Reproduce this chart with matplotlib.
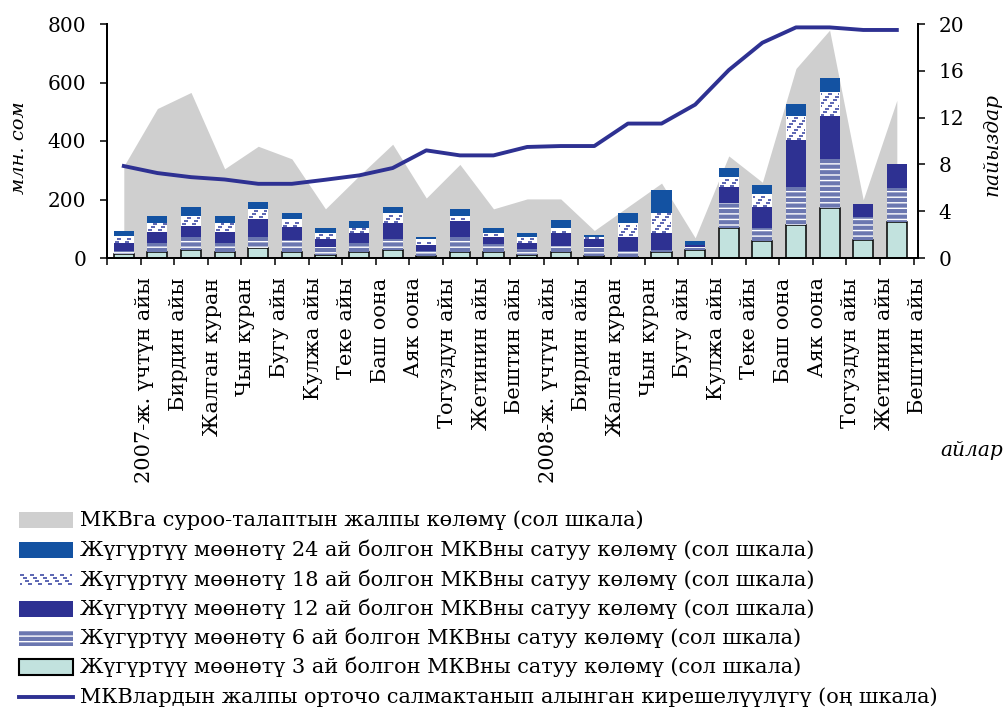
import matplotlib
matplotlib.use("Agg")
import matplotlib.pyplot as plt
import matplotlib.patches as mpatches
import numpy as np

plt.rcParams.update({"font.family": ["DejaVu Serif", "Liberation Serif"],
                     "hatch.linewidth": 1.0})

GRAY = "#cfcfcf"
BLUE24 = "#1352a2"
NAVY12 = "#2e3192"
STEEL6 = "#6b77b0"
CYAN3 = "#c2e2de"
DASH18 = "#4e59ad"
LINE = "#2e3192"

# ---------------------------------------------------------------- data
months = ["2007-ж. үчтүн айы", "Бирдин айы", "Жалган куран", "Чын куран",
          "Бугу айы", "Кулжа айы", "Теке айы", "Баш оона", "Аяк оона",
          "Тогуздун айы", "Жетинин айы", "Бештин айы",
          "2008-ж. үчтүн айы", "Бирдин айы", "Жалган куран", "Чын куран",
          "Бугу айы", "Кулжа айы", "Теке айы", "Баш оона", "Аяк оона",
          "Тогуздун айы", "Жетинин айы", "Бештин айы"]

demand = [314, 511, 566, 305, 382, 339, 168, 281, 389, 205, 320, 168,
          202, 202, 94, 175, 256, 69, 349, 259, 648, 779, 199, 539]

sold_3m = [14, 19, 27, 19, 33, 22, 11, 19, 27, 7, 19, 19,
           11, 19, 7, 5, 19, 27, 102, 59, 113, 170, 62, 122]
sold_6m = [11, 31, 46, 31, 40, 40, 26, 31, 38, 18, 52, 29,
           19, 23, 30, 18, 8, 10, 85, 43, 129, 167, 77, 117]
sold_12m = [25, 40, 38, 40, 60, 43, 27, 34, 54, 21, 57, 25,
            20, 43, 27, 50, 58, 9, 55, 72, 160, 148, 44, 83]
sold_18m = [25, 29, 34, 29, 33, 28, 21, 20, 34, 18, 17, 12,
            23, 16, 9, 46, 70, 0, 35, 45, 83, 82, 0, 0]
sold_24m = [18, 23, 31, 23, 24, 22, 16, 23, 23, 9, 24, 16,
            14, 30, 7, 36, 76, 13, 30, 32, 41, 48, 0, 0]

yield_pct = [7.86, 7.26, 6.91, 6.71, 6.34, 6.34, 6.69, 7.06, 7.69, 9.2,
             8.77, 8.77, 9.49, 9.57, 9.57, 11.49, 11.49, 13.11, 16.06,
             18.4, 19.71, 19.71, 19.49, 19.49]

legend_labels = [
    "МКВга суроо-талаптын жалпы көлөмү (сол шкала)",
    "Жүгүртүү мөөнөтү 24 ай болгон МКВны сатуу көлөмү (сол шкала)",
    "Жүгүртүү мөөнөтү 18 ай болгон МКВны сатуу көлөмү (сол шкала)",
    "Жүгүртүү мөөнөтү 12 ай болгон МКВны сатуу көлөмү (сол шкала)",
    "Жүгүртүү мөөнөтү 6 ай болгон МКВны сатуу көлөмү (сол шкала)",
    "Жүгүртүү мөөнөтү 3 ай болгон МКВны сатуу көлөмү (сол шкала)",
    "МКВлардын жалпы орточо салмактанып алынган кирешелүүлүгү (оң шкала)",
]


def dash_fill(ax, x0, x1, y0, y1, ux, uy, lw=1.3):
    """white box filled with staggered short dashes; ux, uy = data units per pixel"""
    if y1 - y0 <= 2 * uy:
        return
    rows = np.arange(y0 + 1.6 * uy, y1 - 0.8 * uy, 3.0 * uy)
    xs0, xs1, ys = [], [], []
    for k, y in enumerate(rows):
        start = x0 + ((1.0 + 2.5 * k) % 10.0) * ux - 10.0 * ux
        while start < x1:
            a, b = max(start, x0 + ux), min(start + 4.0 * ux, x1 - ux)
            if b > a:
                xs0.append(a); xs1.append(b); ys.append(y)
            start += 10.0 * ux
    ax.hlines(ys, xs0, xs1, colors=DASH18, linewidth=lw, zorder=4)


# ---------------------------------------------------------------- figure
fig = plt.figure(figsize=(10.08, 7.1), dpi=100)
ax = fig.add_axes([107 / 1008, 1 - 258 / 710, 811 / 1008, 234 / 710])
ax2 = ax.twinx()

n = len(months)
x = np.arange(n)
W = 0.6

ax.fill_between(x, 0, demand, color=GRAY, linewidth=0, zorder=1)

s3 = np.array(sold_3m)
s6 = np.array(sold_6m)
s12 = np.array(sold_12m)
s18 = np.array(sold_18m)
s24 = np.array(sold_24m)

ax.bar(x, s3, W, color=CYAN3, edgecolor="black", linewidth=1.1, zorder=3)
ax.bar(x, s6, W, bottom=s3, color=STEEL6, edgecolor="white", linewidth=0,
       hatch="---", zorder=3)
ax.bar(x, s12, W, bottom=s3 + s6, color=NAVY12, linewidth=0, zorder=3)
b18 = s3 + s6 + s12
ax.bar(x, s18, W, bottom=b18, color="white", linewidth=0, zorder=3)
ax.bar(x, s24, W, bottom=b18 + s18, color=BLUE24, linewidth=0, zorder=3)

ux = n / 811.0
uy = 800 / 234.0
for xi, b, h in zip(x, b18, s18):
    if h > 0:
        dash_fill(ax, xi - W / 2, xi + W / 2, b, b + h, ux, uy)

ax2.plot(x, yield_pct, color=LINE, linewidth=2.8, solid_joinstyle="round")

# axes cosmetics
ax.set_xlim(-0.5, n - 0.5)
ax.set_ylim(0, 800)
ax2.set_ylim(0, 20)
ax.set_yticks(range(0, 801, 200))
ax2.set_yticks(range(0, 21, 4))

ax.set_xticks(np.arange(-0.5, n, 1), minor=True)
ax.set_xticks(x + 0.63)
ax.set_xticklabels(months, rotation=90, fontsize=15)
ax.tick_params(axis="x", which="major", length=0, pad=14)
ax.tick_params(axis="x", which="minor", length=5, width=1.1, direction="out")
ax.tick_params(axis="y", labelsize=14.5, length=5, width=1.1, pad=10)
ax2.tick_params(axis="y", labelsize=14.5, length=5, width=1.1, pad=10)

for a in (ax, ax2):
    a.spines["top"].set_visible(False)
    for s in ("left", "right", "bottom"):
        a.spines[s].set_linewidth(1.4)

fig.text(19 / 1008, 1 - 148 / 710, "млн. сом", rotation=90, fontsize=14,
         style="italic", ha="center", va="center")
fig.text(992 / 1008, 1 - 145 / 710, "пайыздар", rotation=90, fontsize=14.5,
         style="italic", ha="center", va="center")
fig.text(1003 / 1008, 1 - 450 / 710, "айлар", fontsize=14.5, style="italic",
         ha="right", va="center")

# ---------------------------------------------------------------- legend
lax = fig.add_axes([0, 0, 1, 1])
lax.set_xlim(0, 1008)
lax.set_ylim(710, 0)
lax.axis("off")

rows_y = [520, 550, 580, 609, 638, 667, 697]
px0, px1, ph = 19, 73, 16
styles = [dict(facecolor=GRAY, linewidth=0),
          dict(facecolor=BLUE24, linewidth=0),
          dict(facecolor="white", linewidth=0),
          dict(facecolor=NAVY12, linewidth=0),
          dict(facecolor=STEEL6, edgecolor="white", linewidth=0, hatch="---"),
          dict(facecolor=CYAN3, edgecolor="black", linewidth=1.5)]
for y, st in zip(rows_y[:6], styles):
    lax.add_patch(mpatches.Rectangle((px0, y - ph / 2), px1 - px0, ph, **st))
dash_fill(lax, px0, px1, rows_y[2] - 7, rows_y[2] + 7, 1.0, 1.0)
lax.plot([px0, px1], [rows_y[6], rows_y[6]], color=LINE, linewidth=2.8)
for y, lab in zip(rows_y, legend_labels):
    lax.text(80, y, lab, fontsize=15, va="center", ha="left")

fig.savefig("out.png", dpi=100)
